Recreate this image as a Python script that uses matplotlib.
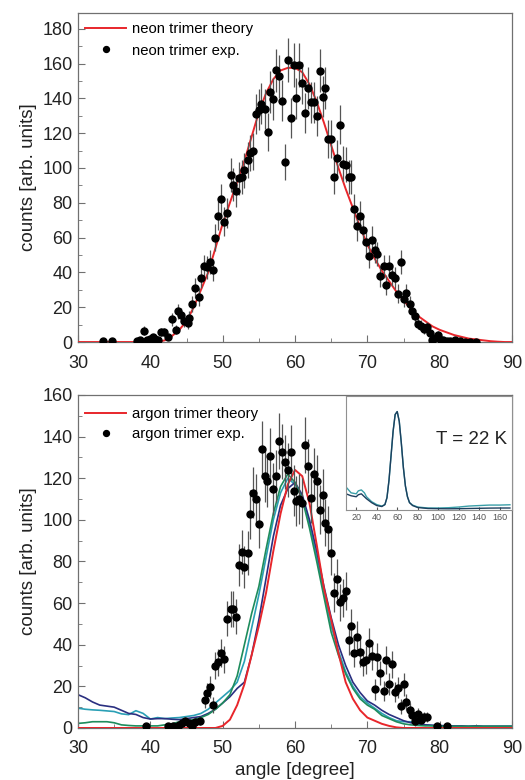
import matplotlib
matplotlib.use("Agg")
import matplotlib.pyplot as plt
from matplotlib.ticker import MultipleLocator

plt.rcParams['font.family'] = ['Liberation Sans', 'DejaVu Sans']

# ---- neon trimer (top panel) ----
neon_x = [33.5, 34.7, 38.2, 38.6, 39.1, 39.5, 40.0, 40.3, 40.7, 41.1,
          41.5, 41.9, 42.5, 43.0, 43.5, 43.8, 44.3, 44.7, 45.2, 45.4,
          45.8, 46.2, 46.7, 47.0, 47.4, 47.8, 48.2, 48.6, 49.0, 49.4,
          49.8, 50.2, 50.6, 51.1, 51.4, 51.9, 52.3, 52.7, 53.0, 53.5,
          53.8, 54.2, 54.6, 55.0, 55.3, 55.8, 56.2, 56.6, 57.0, 57.4,
          57.8, 58.2, 58.6, 59.0, 59.4, 59.8, 60.2, 60.6, 61.0, 61.4,
          61.8, 62.2, 62.6, 63.0, 63.4, 63.8, 64.2, 64.6, 65.0, 65.4,
          65.8, 66.2, 66.6, 67.0, 67.4, 67.8, 68.2, 68.6, 69.0, 69.4,
          69.8, 70.2, 70.6, 71.0, 71.4, 71.8, 72.3, 72.6, 73.0, 73.4,
          73.8, 74.2, 74.7, 75.0, 75.4, 75.9, 76.2, 76.6, 77.0, 77.4,
          77.8, 78.2, 78.6, 79.0, 79.4, 79.8, 80.2, 80.5, 81.0, 81.4,
          82.1, 82.8, 83.5, 84.2, 85.0]
neon_y = [0.5, 0.5, 0.5, 1, 6.5, 1.3, 2, 3, 2, 1.3,
          5.5, 5.5, 3, 13, 7, 17.6, 15.7, 12, 11, 14,
          22, 31, 26, 37, 43.5, 43, 46, 41.5, 60, 72.6,
          82, 69, 74, 96, 90.4, 86.6, 94, 94.6, 98.6, 104.7,
          108.6, 109.5, 131, 133.5, 137, 134, 120.6, 143.8, 139.6, 156,
          152.6, 138.6, 103.4, 161.8, 128.7, 159.3, 140, 159.3, 148.8, 131.6,
          146, 137.7, 137.7, 129.8, 155.9, 141, 145.7, 116.6, 116.6, 94.6,
          105.9, 124.9, 102.4, 101.9, 94.6, 94.6, 76.4, 66.4, 72.6, 64.5,
          57.4, 49.6, 58.8, 52.7, 50.6, 37.7, 43.5, 32.6, 43.5, 38.5,
          36.8, 27.8, 45.8, 24.9, 28.2, 21.6, 17.6, 15.1, 10.5, 9.4,
          7.5, 8.6, 5.2, 1.3, 2.3, 4.2, 1, 1, 0.5, 0.5,
          1.3, 0.5, 0.3, 0.3, 0.3]
neon_err = [0.7, 0.7, 0.7, 1, 2.5, 1.1, 1.4, 1.7, 1.4, 1.1,
            2.3, 2.3, 1.7, 3.6, 2.6, 4.2, 4, 3.5, 3.3, 3.7,
            4.7, 5.6, 5.1, 6.1, 6.6, 6.6, 6.8, 6.4, 7.7, 8.5,
            9, 8.3, 8.6, 9.8, 9.5, 9.3, 9.7, 9.7, 9.9, 10.2,
            10.4, 10.5, 11.4, 11.6, 11.7, 11.6, 11, 12, 11.8, 12.5,
            12.4, 11.8, 10.2, 12.7, 11.3, 12.6, 11.8, 12.6, 12.2, 11.5,
            12.1, 11.7, 11.7, 11.4, 12.5, 11.9, 12.1, 10.8, 10.8, 9.7,
            10.3, 11.2, 10.1, 10.1, 9.7, 9.7, 8.7, 8.1, 8.5, 8,
            7.6, 7, 7.7, 7.3, 7.1, 6.1, 6.6, 5.7, 6.6, 6.2,
            6.1, 5.3, 6.8, 5, 5.3, 4.6, 4.2, 3.9, 3.2, 3.1,
            2.7, 2.9, 2.3, 1.1, 1.5, 2, 1, 1, 0.7, 0.7,
            1.1, 0.7, 0.5, 0.5, 0.5]

theory_angle = list(range(30, 91))
neon_theory = [0, 0, 0, 0, 0, 0, 0, 0, 0, 0,
               0, 0, 1, 3.5, 7, 12, 20, 30, 40, 54,
               68, 80, 92, 104, 118, 132, 143, 151, 156, 157.5,
               157.5, 155, 148, 138, 126, 113, 100, 88, 77, 66,
               56, 48, 41, 35, 29, 24, 19, 15, 12, 9,
               7, 5.5, 4, 3, 2, 1.5, 1, 0.5, 0.2, 0,
               0]

# ---- argon trimer (bottom panel) ----
argon_x = [39.4, 42.5, 43.2, 43.9, 44.4, 44.8, 45.3, 45.8, 46.2, 46.9,
           47.5, 47.8, 48.2, 48.6, 49.0, 49.4, 49.8, 50.2, 50.6, 51.1,
           51.4, 51.9, 52.3, 52.7, 53.0, 53.5, 53.8, 54.2, 54.6, 55.0,
           55.4, 55.8, 56.1, 56.6, 57.0, 57.4, 57.8, 58.2, 58.6, 59.0,
           59.4, 59.8, 60.2, 60.6, 61.0, 61.4, 61.8, 62.2, 62.6, 63.0,
           63.4, 63.8, 64.2, 64.6, 65.0, 65.4, 65.8, 66.2, 66.6, 67.0,
           67.4, 67.8, 68.2, 68.6, 69.0, 69.4, 69.8, 70.2, 70.6, 71.0,
           71.4, 71.8, 72.3, 72.6, 73.0, 73.4, 73.8, 74.2, 74.7, 75.0,
           75.4, 75.9, 76.2, 76.6, 77.0, 77.4, 77.8, 78.2, 79.6, 81.0]
argon_y = [0.8, 0.8, 1, 1.6, 2.4, 3.2, 2.4, 0.8, 2.8, 3.2,
           13.6, 16.9, 19.7, 11.2, 30, 31.6, 36, 33, 52.5, 57,
           57.3, 53.4, 78.3, 84.7, 77.5, 84, 102.7, 113, 110, 98,
           134, 121, 118.8, 130.8, 114.8, 121, 138, 132.7, 128, 124,
           132.4, 114, 109, 110, 108, 136, 126, 110.7, 122, 118.8,
           104.8, 112, 98.7, 95.5, 84, 65, 71.7, 60.5, 62.6, 65.8,
           42.5, 49, 36, 43.8, 36.4, 31.6, 32.6, 40.6, 34.8, 18.5,
           34.2, 26.5, 17.7, 32.6, 21.3, 30.5, 17.3, 19.3, 10.4, 20.9,
           12.4, 8.8, 6.4, 3.2, 6.7, 4, 5.3, 5.3, 0.8, 1.1]
argon_err = [1, 1, 1.2, 1.5, 1.8, 2, 1.8, 1, 1.9, 2,
             4.2, 4.7, 5.1, 3.8, 6.3, 6.5, 6.9, 6.6, 8.3, 8.7,
             8.7, 8.4, 10.2, 10.6, 10.1, 10.5, 11.7, 12.2, 12.1, 11.4,
             13.3, 12.6, 12.5, 13.2, 12.3, 12.6, 13.5, 13.2, 13, 12.8,
             13.2, 12.3, 12, 12.1, 12, 13.4, 12.9, 12.1, 12.7, 12.5,
             11.8, 12.2, 11.4, 11.2, 10.5, 9.3, 9.7, 8.9, 9.1, 9.3,
             7.5, 8, 6.9, 7.6, 6.9, 6.5, 6.6, 7.3, 6.8, 4.9,
             6.7, 5.9, 4.8, 6.6, 5.3, 6.4, 4.8, 5.1, 3.7, 5.3,
             4, 3.4, 2.9, 2.1, 3, 2.3, 2.6, 2.6, 1, 1.2]

argon_theory = [0, 0, 0, 0, 0, 0, 0, 0, 0, 0,
                0, 0, 0, 0, 0, 0, 0, 0, 0, 0,
                1, 4, 11, 21, 35, 49, 65, 85, 103, 117,
                124, 121, 108, 88, 67, 52, 36, 22, 14, 8.5,
                5, 3.5, 2, 1, 0.3, 0, 0, 0, 0, 0,
                0, 0, 0, 0, 0, 0, 0, 0, 0, 0,
                0]

# simulated histograms (angles 30..90)
sim_navy = [16, 14.5, 12.5, 11, 10.5, 10, 8.5, 7, 6.5, 5,
            4.3, 4.5, 4.5, 4.2, 4, 4.5, 5, 5.5, 7, 9,
            12, 15, 19, 22, 35, 52, 72, 92, 107, 115,
            118, 112, 100, 85, 68, 53, 40, 30, 22, 17,
            13, 11, 8.5, 6.5, 5, 3.5, 2.5, 2, 1.5, 1.3,
            1.2, 1, 1, 1, 0.8, 1, 0.8, 0.8, 0.8, 0.8,
            0.8]
sim_cyan = [9.5, 9, 8.7, 8.5, 8.2, 7.9, 6.8, 6.4, 8.3, 7,
            4.3, 5, 4.5, 4.8, 5, 5.5, 6, 7, 9, 12,
            15, 18, 22, 32, 48, 64, 82, 100, 113, 120,
            117, 111, 98, 82, 65, 49, 37, 27, 20, 15,
            12, 9.5, 7, 5, 3.5, 3, 3, 2, 1.5, 1.2,
            1, 1, 0.8, 0.8, 0.8, 1, 0.8, 0.8, 0.8, 0.8,
            0.8]
sim_green = [2.2, 2.5, 3, 3, 3, 2.5, 1.5, 1.2, 1, 1,
             1, 1, 1.5, 2, 3, 3.5, 4, 5, 6.5, 9,
             12, 16, 25, 40, 55, 68, 86, 103, 116, 122,
             118, 110, 96, 80, 63, 46, 35, 26, 19, 14,
             11, 9, 6, 4.5, 3, 2, 1.5, 1.2, 1, 1,
             0.8, 0.8, 0.8, 0.8, 0.8, 0.8, 0.8, 0.8, 0.8, 0.8,
             0.8]

# inset: full angular range, normalised
inset_angle = [10, 15, 20, 22, 25, 28, 30, 35, 40, 45,
               48, 50, 52, 54, 56, 58, 60, 62, 64, 66,
               68, 70, 72, 75, 80, 90, 100, 110, 120, 130,
               140, 150, 160, 170]
inset_dark = [0.16, 0.14, 0.13, 0.15, 0.16, 0.13, 0.11, 0.07, 0.04, 0.03,
              0.05, 0.12, 0.3, 0.55, 0.8, 0.97, 1.0, 0.9, 0.68, 0.43,
              0.24, 0.13, 0.07, 0.04, 0.02, 0.01, 0.008, 0.007, 0.008, 0.01,
              0.012, 0.014, 0.015, 0.015]
inset_teal = [0.23, 0.17, 0.16, 0.19, 0.2, 0.17, 0.13, 0.08, 0.05, 0.035,
              0.05, 0.12, 0.3, 0.55, 0.8, 0.97, 1.0, 0.9, 0.68, 0.43,
              0.24, 0.13, 0.07, 0.045, 0.025, 0.015, 0.015, 0.018, 0.025, 0.035,
              0.04, 0.045, 0.045, 0.048]

RED = '#e8262b'
FRAME = '#707070'


def style_axes(ax, ymax, ystep):
    ax.set_xlim(30, 90)
    ax.set_ylim(0, ymax)
    ax.xaxis.set_major_locator(MultipleLocator(10))
    ax.xaxis.set_minor_locator(MultipleLocator(5))
    ax.yaxis.set_major_locator(MultipleLocator(ystep))
    ax.yaxis.set_minor_locator(MultipleLocator(ystep / 2))
    ax.tick_params(which='both', direction='in', labelsize=13, colors='#222222')
    ax.tick_params(which='major', length=5, color=FRAME)
    ax.tick_params(which='minor', length=3, color=FRAME)
    ax.tick_params(axis='x', which='both', pad=9)
    ax.tick_params(axis='y', which='both', pad=4)
    for s in ax.spines.values():
        s.set_color(FRAME)
        s.set_linewidth(0.9)
    ax.set_ylabel('counts [arb. units]', fontsize=13.5, color='#222222')


def exp_points(ax, x, y, err, label):
    # error bars first, then the dots (only the dots go in the legend)
    ax.errorbar(x, y, yerr=err, fmt='none', ecolor='#555555',
                elinewidth=0.9, capsize=0, zorder=4)
    ax.plot(x, y, 'o', color='black', ms=5, label=label, zorder=5)


fig = plt.figure(figsize=(5.25, 7.8), dpi=100)

ax1 = fig.add_axes([0.1486, 0.5615, 0.8267, 0.4218])
ax1.plot(theory_angle, neon_theory, color=RED, lw=1.4, label='neon trimer theory', zorder=3)
exp_points(ax1, neon_x, neon_y, neon_err, 'neon trimer exp.')
style_axes(ax1, 189, 20)
ax1.legend(loc='upper left', frameon=False, fontsize=10.7, handlelength=2.7,
           handletextpad=0.4, borderaxespad=0.1, labelspacing=0.5,
           markerscale=0.85, bbox_to_anchor=(0.0, 0.995))

ax2 = fig.add_axes([0.1486, 0.0667, 0.8267, 0.4269])
ax2.plot(theory_angle, sim_cyan, color='#2a9fb5', lw=1.2, zorder=2)
ax2.plot(theory_angle, sim_navy, color='#2a2f80', lw=1.2, zorder=2)
ax2.plot(theory_angle, sim_green, color='#1e8c5c', lw=1.2, zorder=2)
ax2.plot(theory_angle, argon_theory, color=RED, lw=1.4, label='argon trimer theory', zorder=3)
exp_points(ax2, argon_x, argon_y, argon_err, 'argon trimer exp.')
style_axes(ax2, 160, 20)
ax2.set_xlabel('angle [degree]', fontsize=13.5, color='#222222', labelpad=3)
ax2.legend(loc='upper left', frameon=False, fontsize=10.7, handlelength=2.7,
           handletextpad=0.4, borderaxespad=0.1, labelspacing=0.4,
           markerscale=0.85, bbox_to_anchor=(0.0, 0.985))

# inset
ax3 = fig.add_axes([0.659, 0.3462, 0.3162, 0.1462])
ax3.plot(inset_angle, inset_teal, color='#3a9fa8', lw=1.0)
ax3.plot(inset_angle, inset_dark, color='#1d3f5e', lw=1.0)
ax3.set_xlim(10, 172)
ax3.set_ylim(-0.005, 1.16)
ax3.set_xticks([20, 40, 60, 80, 100, 120, 140, 160])
ax3.set_yticks([])
ax3.tick_params(direction='in', length=2, labelsize=6.5, pad=2, colors='#555555')
for s in ax3.spines.values():
    s.set_color('#909090')
    s.set_linewidth(0.8)
ax3.text(0.97, 0.62, 'T = 22 K', transform=ax3.transAxes, ha='right', va='center',
         fontsize=13.5, color='#222222')

fig.savefig('out.png', dpi=100)
plt.close(fig)
